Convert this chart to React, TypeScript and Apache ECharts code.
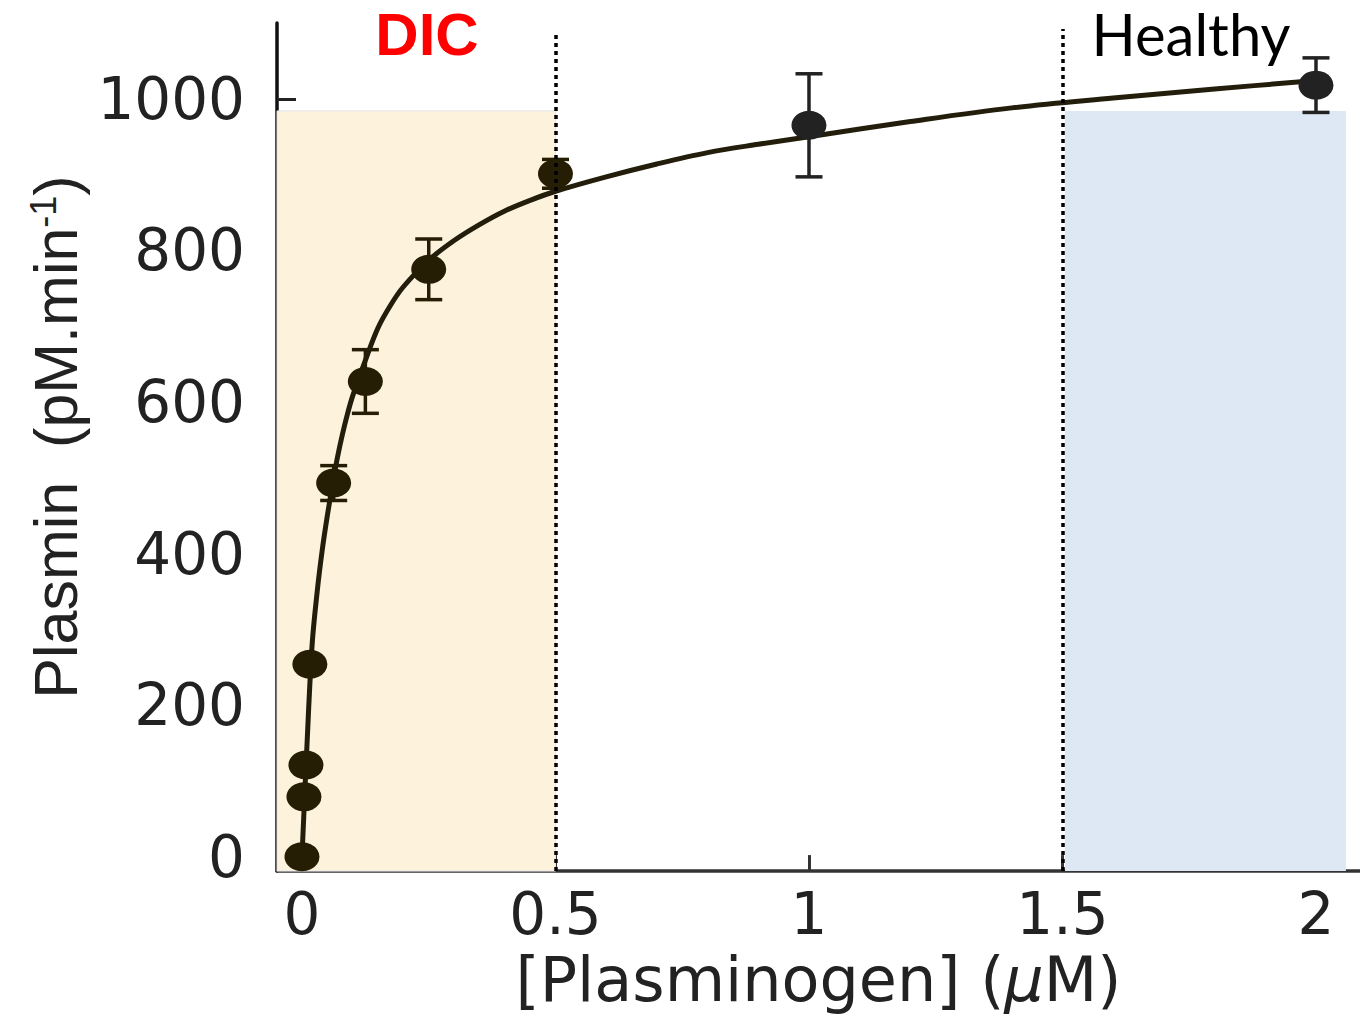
import React, { useEffect, useRef } from "react";
import * as echarts from "echarts";

// ---- data ----
const pointX = [0, 0.0039, 0.0078, 0.0156, 0.0625, 0.125, 0.25, 0.5, 1, 2];
const pointY = [0, 79, 121, 254, 493, 627, 775, 901, 965, 1018];
const pointErr = [0, 0, 0, 0, 23, 42, 40, 19, 68, 36];

const fitX = [0, 0.01, 0.02, 0.03, 0.04, 0.05, 0.06, 0.07, 0.08, 0.09, 0.1, 0.125, 0.15, 0.175, 0.2, 0.25, 0.3, 0.35, 0.4, 0.45, 0.5, 0.6, 0.7, 0.8, 0.9, 1.0, 1.2, 1.4, 1.6, 1.8, 2.0];
const fitY = [0, 150, 280, 350, 405, 450, 490, 527, 558, 585, 608, 655, 698, 728, 752, 787, 813, 834, 852, 866, 878, 897, 914, 929, 940, 950, 970, 988, 1001, 1013, 1024];

const xTicks = [0, 0.5, 1, 1.5, 2];
const yTicks = [0, 200, 400, 600, 800, 1000];

const xMin = -0.0493;
const xMax = 2.0868;
const yMin = -19;
const yMax = 1100;

const dicRange = [xMin, 0.5];
const healthyRange = [1.505, 2.059];
const shadeTop = 984;

const boundaries = [0.5, 1.5];
const boundaryTops = [1089, 1092];

const regionLabels = ["DIC", "Healthy"];

const inkDIC = "#261d05";
const ink = "#222222";

export default function App() {
  const ref = useRef<HTMLDivElement>(null);

  useEffect(() => {
    if (!ref.current) return;
    const chart = echarts.init(ref.current, undefined, { renderer: "svg" });

    const points = pointX.map((x, i) => ({
      value: [x, pointY[i]],
      itemStyle: { color: x <= 0.5 ? inkDIC : ink, opacity: 1 },
    }));
    const errData = pointX
      .map((x, i) => [x, pointY[i] - pointErr[i], pointY[i] + pointErr[i], pointErr[i]])
      .filter((d) => d[3] > 0);

    const option: any = {
      animation: false,
      grid: { left: 277, right: 0, top: 23, bottom: 140, containLabel: false },
      xAxis: {
        type: "value",
        min: xMin,
        max: xMax,
        name: "{a|[Plasminogen] (}{i|μ}{a|M)}",
        nameLocation: "middle",
        nameGap: 76,
        nameTextStyle: {
          rich: {
            a: { fontFamily: "DejaVu Sans", fontSize: 62, color: "#222" },
            i: { fontFamily: "DejaVu Sans", fontSize: 62, fontStyle: "italic", color: "#222" },
          },
        },
        axisLine: { show: true, onZero: false, lineStyle: { color: "#333", width: 3.5 } },
        axisTick: { show: true, inside: true, length: 16, customValues: xTicks, lineStyle: { color: "#333", width: 3 } },
        axisLabel: {
          customValues: xTicks,
          fontFamily: "DejaVu Sans",
          fontSize: 58,
          color: "#222",
          margin: 14,
          formatter: (v: number) => String(v),
        },
        splitLine: { show: false },
      },
      yAxis: {
        type: "value",
        min: yMin,
        max: yMax,
        name: "{a|Plasmin  (pM.min}{s|-1}{a|)}",
        nameLocation: "middle",
        nameGap: 180,
        nameTextStyle: {
          padding: [0, 0, 0, 20],
          rich: {
            a: { fontFamily: "Liberation Sans", fontSize: 61, color: "#222" },
            s: { fontFamily: "Liberation Sans", fontSize: 36, color: "#222", verticalAlign: "top", lineHeight: 30 },
          },
        },
        axisLine: { show: true, onZero: false, lineStyle: { color: "#111", width: 3.5 } },
        axisTick: { show: true, inside: true, length: 19, customValues: yTicks, lineStyle: { color: "#222", width: 3 } },
        axisLabel: {
          customValues: yTicks,
          fontFamily: "DejaVu Sans",
          fontSize: 58,
          color: "#222",
          margin: 32,
          padding: [0, 0, 14, 0],
          formatter: (v: number) => String(v),
        },
        splitLine: { show: false },
      },
      series: [
        {
          type: "line",
          data: [],
          z: 1,
          silent: true,
          markArea: {
            silent: true,
            data: [
              [
                { xAxis: dicRange[0], yAxis: yMin, itemStyle: { color: "#fdf3dc", borderColor: "#e2e2ea", borderWidth: 1 } },
                { xAxis: dicRange[1], yAxis: shadeTop },
              ],
            ],
          },
        },
        {
          type: "line",
          data: fitX.map((x, i) => [x, fitY[i]]),
          smooth: 0.35,
          showSymbol: false,
          symbol: "none",
          z: 2,
          lineStyle: { color: "#231d0c", width: 5 },
        },
        {
          type: "custom",
          z: 3,
          data: errData,
          encode: { x: 0, y: [1, 2] },
          renderItem: (params: any, api: any) => {
            const x = api.value(0);
            const lo = api.value(1);
            const hi = api.value(2);
            const top = api.coord([x, hi]);
            const bot = api.coord([x, lo]);
            const hw = 13.5;
            const stroke = x <= 0.5 ? inkDIC : ink;
            const st = { stroke, lineWidth: 3.5 };
            return {
              type: "group",
              children: [
                { type: "line", shape: { x1: top[0], y1: top[1], x2: bot[0], y2: bot[1] }, style: st },
                { type: "line", shape: { x1: top[0] - hw, y1: top[1], x2: top[0] + hw, y2: top[1] }, style: st },
                { type: "line", shape: { x1: bot[0] - hw, y1: bot[1], x2: bot[0] + hw, y2: bot[1] }, style: st },
              ],
            };
          },
        },
        {
          type: "line",
          data: [],
          z: 3.5,
          silent: true,
          markArea: {
            silent: true,
            data: [
              [
                { xAxis: healthyRange[0], yAxis: yMin, itemStyle: { color: "#dee8f4" } },
                { xAxis: healthyRange[1], yAxis: shadeTop },
              ],
            ],
          },
        },
        {
          type: "scatter",
          z: 4,
          data: points,
          symbol: "circle",
          symbolSize: [35, 29],
          itemStyle: { opacity: 1 },
        },
        {
          type: "line",
          data: [],
          z: 6,
          silent: true,
          markLine: {
            silent: true,
            symbol: ["none", "none"],
            label: { show: false },
            lineStyle: { color: "#000", width: 3.5, type: [4, 4], opacity: 1 },
            data: boundaries.map((b, i) => [
              { coord: [b, yMin] },
              { coord: [b, boundaryTops[i]] },
            ]),
          },
        },
      ],
      graphic: [
        {
          type: "text",
          x: 427,
          y: 4,
          style: {
            text: regionLabels[0],
            fill: "#ff0000",
            fontFamily: "Liberation Sans",
            fontWeight: "bold",
            fontSize: 60,
            textAlign: "center",
            textVerticalAlign: "top",
          },
        },
        {
          type: "text",
          x: 1191,
          y: 4,
          style: {
            text: regionLabels[1],
            fill: "#000",
            fontFamily: "Lato",
            fontSize: 58,
            textAlign: "center",
            textVerticalAlign: "top",
          },
        },
      ],
    };

    chart.setOption(option);
    return () => chart.dispose();
  }, []);

  return (
    <div
      ref={ref}
      style={{ position: "fixed", left: 0, top: 0, width: 1360, height: 1015, background: "#fff" }}
    />
  );
}
